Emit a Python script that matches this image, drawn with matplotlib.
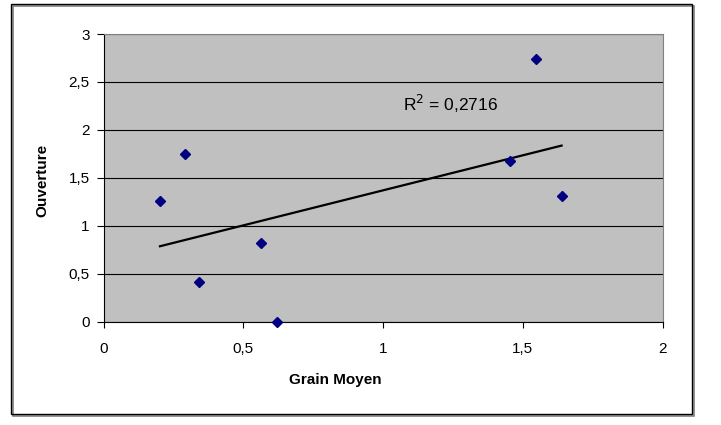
import numpy as np
import matplotlib
matplotlib.use("Agg")
import matplotlib.pyplot as plt
from matplotlib.patches import Rectangle
from matplotlib.ticker import FuncFormatter

plt.rcParams['font.family'] = ['Liberation Sans', 'DejaVu Sans']

# data
grain_moyen = [0.202, 0.292, 0.342, 0.5635, 0.621, 1.549, 1.454, 1.639]
ouverture = [1.26, 1.75, 0.41, 0.82, 0.0, 2.74, 1.68, 1.31]
r2_label = "R$^2$ = 0,2716"

fig = plt.figure(figsize=(7.21, 4.25), dpi=100)
W, H = 721, 425
ax = fig.add_axes([103.5 / W, 1 - 321.5 / H, (662.5 - 103.5) / W, (321.5 - 34) / H])
ax.set_facecolor('#C0C0C0')

# linear trendline over the data range
slope, intercept = np.polyfit(grain_moyen, ouverture, 1)
xs = np.array([min(grain_moyen), max(grain_moyen)])
ax.plot(xs, slope * xs + intercept, color='black', lw=1.6, zorder=3)

ax.plot(grain_moyen, ouverture, 'D', color='#000080', ms=5, mec='#000080',
        clip_on=False, zorder=4)

ax.set_xlim(0, 2)
ax.set_ylim(0, 3)
ax.set_xticks([0, 0.5, 1, 1.5, 2])
ax.set_yticks([0, 0.5, 1, 1.5, 2, 2.5, 3])
fmt = FuncFormatter(lambda v, p: ('%g' % v).replace('.', ','))
ax.xaxis.set_major_formatter(fmt)
ax.yaxis.set_major_formatter(fmt)
ax.grid(axis='y', color='black', lw=0.8)
ax.set_axisbelow(True)
ax.tick_params(axis='x', direction='out', length=4, pad=11, labelsize=11, width=0.8)
ax.tick_params(axis='y', direction='out', length=5, pad=5, labelsize=11, width=0.8)
for s in ['top', 'right']:
    ax.spines[s].set_color('#808080')
for s in ['left', 'bottom']:
    ax.spines[s].set_color('black')
    ax.spines[s].set_linewidth(0.8)

ax.text(1.072, 2.2, r2_label, fontsize=12.5, va='baseline', ha='left')

fig.text(335 / W, 1 - 380 / H, 'Grain Moyen', fontsize=11, fontweight='bold',
         ha='center', va='center')
fig.text(42 / W, 1 - 180 / H, 'Ouverture', fontsize=11, fontweight='bold',
         ha='center', va='center', rotation=90)

# chart border with a small shadow
fig.patches.append(Rectangle((13 / W, 1 - 416 / H), 681 / W, 410 / H,
                             transform=fig.transFigure, fill=False,
                             edgecolor='#808080', lw=1.2))
fig.patches.append(Rectangle((11 / W, 1 - 414 / H), 681 / W, 410 / H,
                             transform=fig.transFigure, fill=False,
                             edgecolor='black', lw=1))

fig.savefig('out.png', dpi=100)
